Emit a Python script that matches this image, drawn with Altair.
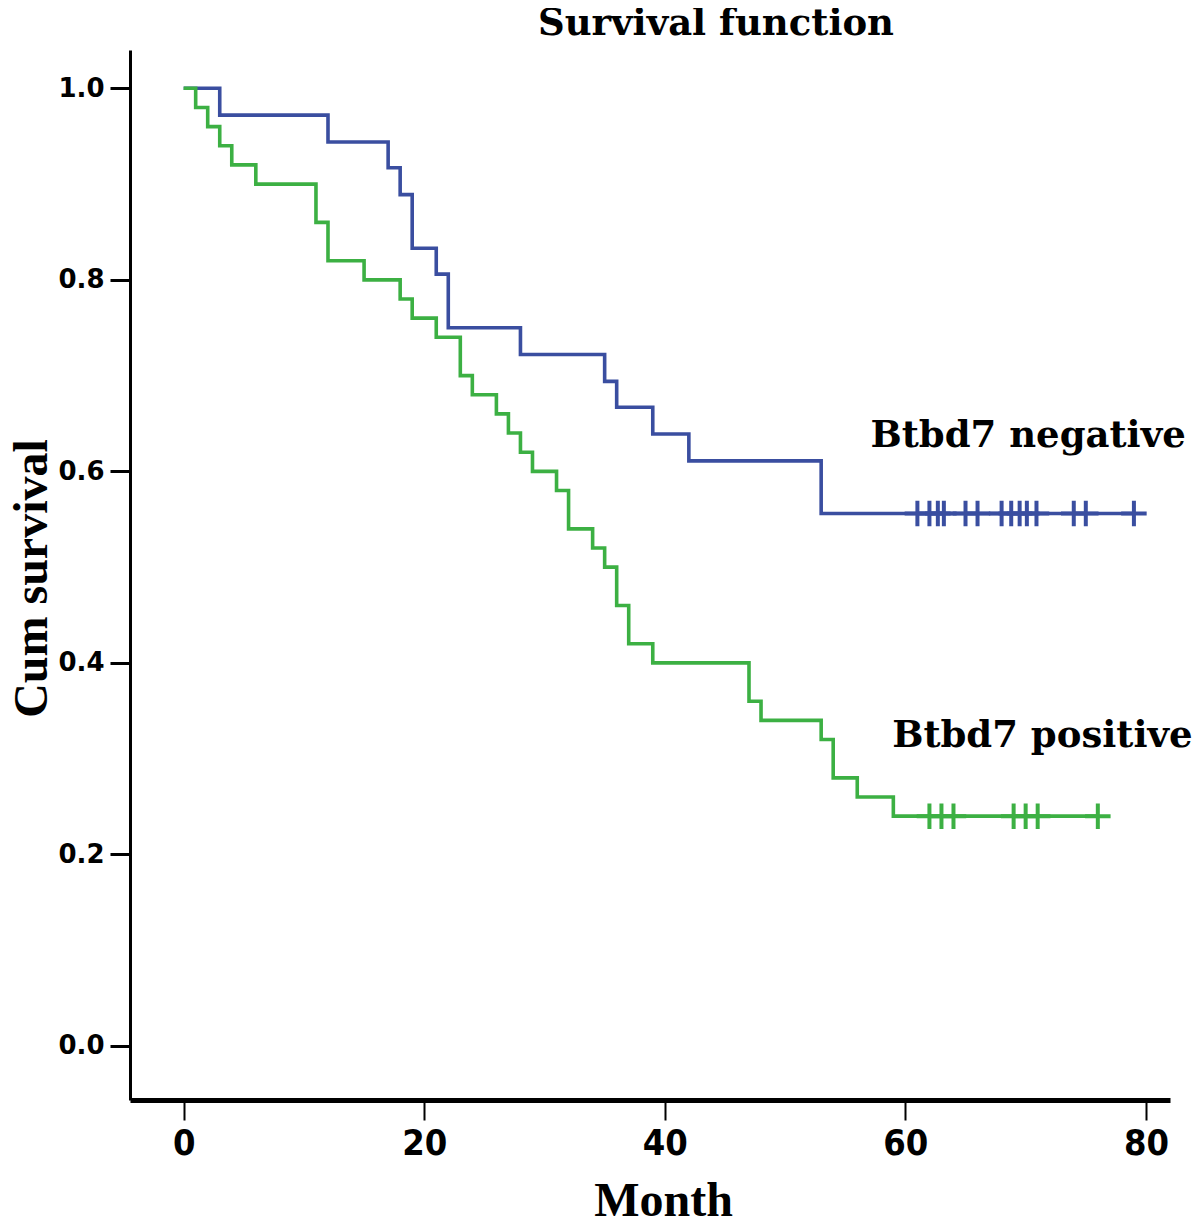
import altair as alt
import pandas as pd

# ---- data ----
title_text = "Survival function"
groups = ["Btbd7 negative", "Btbd7 positive"]
colors = ["#3a4ea0", "#3cb043"]

neg_time = [0, 3, 12, 17, 18, 19, 21, 22, 28, 35, 36, 39, 42, 53, 79]
neg_surv = [1.0, 0.972, 0.944, 0.917, 0.889, 0.833, 0.806, 0.750, 0.722,
            0.694, 0.667, 0.639, 0.611, 0.556, 0.556]
neg_censor = [61, 62, 62.7, 63.2, 65, 66, 68, 68.8, 69.5, 70.1, 70.9, 74, 75, 79]
neg_censor_surv = 0.556

pos_time = [0, 1, 2, 3, 4, 6, 11, 12, 15, 18, 19, 21, 23, 24, 26, 27, 28, 29,
            31, 32, 34, 35, 36, 37, 39, 47, 48, 53, 54, 56, 59, 76]
pos_surv = [1.0, 0.98, 0.96, 0.94, 0.92, 0.90, 0.86, 0.82, 0.80, 0.78, 0.76,
            0.74, 0.70, 0.68, 0.66, 0.64, 0.62, 0.60, 0.58, 0.54, 0.52, 0.50,
            0.46, 0.42, 0.40, 0.36, 0.34, 0.32, 0.28, 0.26, 0.24, 0.24]
pos_censor = [62, 63, 64, 69, 70, 71, 76]
pos_censor_surv = 0.24

label_text = ["Btbd7 negative", "Btbd7 positive"]
label_x = [57.1, 58.9]
label_y = [0.625, 0.312]

x_ticks = [0, 20, 40, 60, 80]
y_ticks = [0.0, 0.2, 0.4, 0.6, 0.8, 1.0]
x_domain = [-4.46, 82.0]
y_domain = [-0.0564, 1.040]

# ---- tables ----
lines = pd.concat([
    pd.DataFrame({"time": neg_time, "surv": neg_surv, "group": groups[0]}),
    pd.DataFrame({"time": pos_time, "surv": pos_surv, "group": groups[1]}),
])
censors = pd.concat([
    pd.DataFrame({"time": neg_censor, "surv": neg_censor_surv, "group": groups[0]}),
    pd.DataFrame({"time": pos_censor, "surv": pos_censor_surv, "group": groups[1]}),
])
labels = pd.DataFrame({"text": label_text, "time": label_x, "surv": label_y})
title_df = pd.DataFrame({"t": [title_text]})

xs = alt.Scale(domain=x_domain, nice=False, zero=False)
ys = alt.Scale(domain=y_domain, nice=False, zero=False)
cs = alt.Scale(domain=groups, range=colors)

x_axis = alt.Axis(
    values=x_ticks, grid=False, title="Month",
    domainColor="black", domainWidth=5, tickColor="black", tickWidth=2, tickSize=20,
    labelFont="Liberation Sans Narrow, DejaVu Sans Condensed, Liberation Sans",
    labelFontSize=36, labelFontWeight="bold",
    labelColor="black", labelPadding=6, labelFlush=False, labelOverlap=False,
    titleFont="Liberation Serif", titleFontSize=48, titleFontWeight="bold",
    titleColor="black", titleX=533, titleY=115, titleAlign="center",
    titleBaseline="alphabetic",
)
y_axis = alt.Axis(
    values=y_ticks, format=".1f", grid=False, title="Cum survival",
    domainColor="black", domainWidth=3, tickColor="black", tickWidth=3, tickSize=20,
    labelFont="DejaVu Sans", labelFontSize=26, labelFontWeight="bold",
    labelColor="black", labelPadding=6, labelFlush=False, labelOverlap=False,
    titleFont="Liberation Serif", titleFontSize=48, titleFontWeight="bold",
    titleColor="black", titleAngle=270, titleX=-84, titleY=528,
    titleAlign="center", titleBaseline="alphabetic",
)

base_x = alt.X("time:Q", scale=xs, axis=x_axis)
base_y = alt.Y("surv:Q", scale=ys, axis=y_axis)

line_layer = alt.Chart(lines).mark_line(interpolate="step-after", strokeWidth=3.6).encode(
    x=base_x, y=base_y,
    color=alt.Color("group:N", scale=cs, legend=None),
)

censor_layer = alt.Chart(censors).mark_point(
    shape="M-1,0H1M0,-1V1", size=650, filled=False, strokeWidth=4, opacity=1
).encode(
    x=alt.X("time:Q", scale=xs),
    y=alt.Y("surv:Q", scale=ys),
    color=alt.Color("group:N", scale=cs, legend=None),
)

label_layer = alt.Chart(labels).mark_text(
    align="left", baseline="alphabetic", font="DejaVu Serif",
    fontSize=37, fontWeight="bold", color="black"
).encode(
    x=alt.X("time:Q", scale=xs),
    y=alt.Y("surv:Q", scale=ys),
    text="text:N",
)

title_layer = alt.Chart(title_df).mark_text(
    align="center", baseline="alphabetic", font="DejaVu Serif",
    fontSize=37, fontWeight="bold", color="black"
).encode(
    x=alt.value(586), y=alt.value(-15), text="t:N",
)

chart = alt.layer(line_layer, censor_layer, label_layer, title_layer).properties(
    width=1040, height=1050,
    autosize=alt.AutoSizeParams(type="none"),
    padding={"left": 122, "top": 42, "right": 22, "bottom": 116},
).configure(background="white", view=alt.ViewConfig(stroke=None))

chart.save("out.html", embed_options={"renderer": "svg", "actions": False})
